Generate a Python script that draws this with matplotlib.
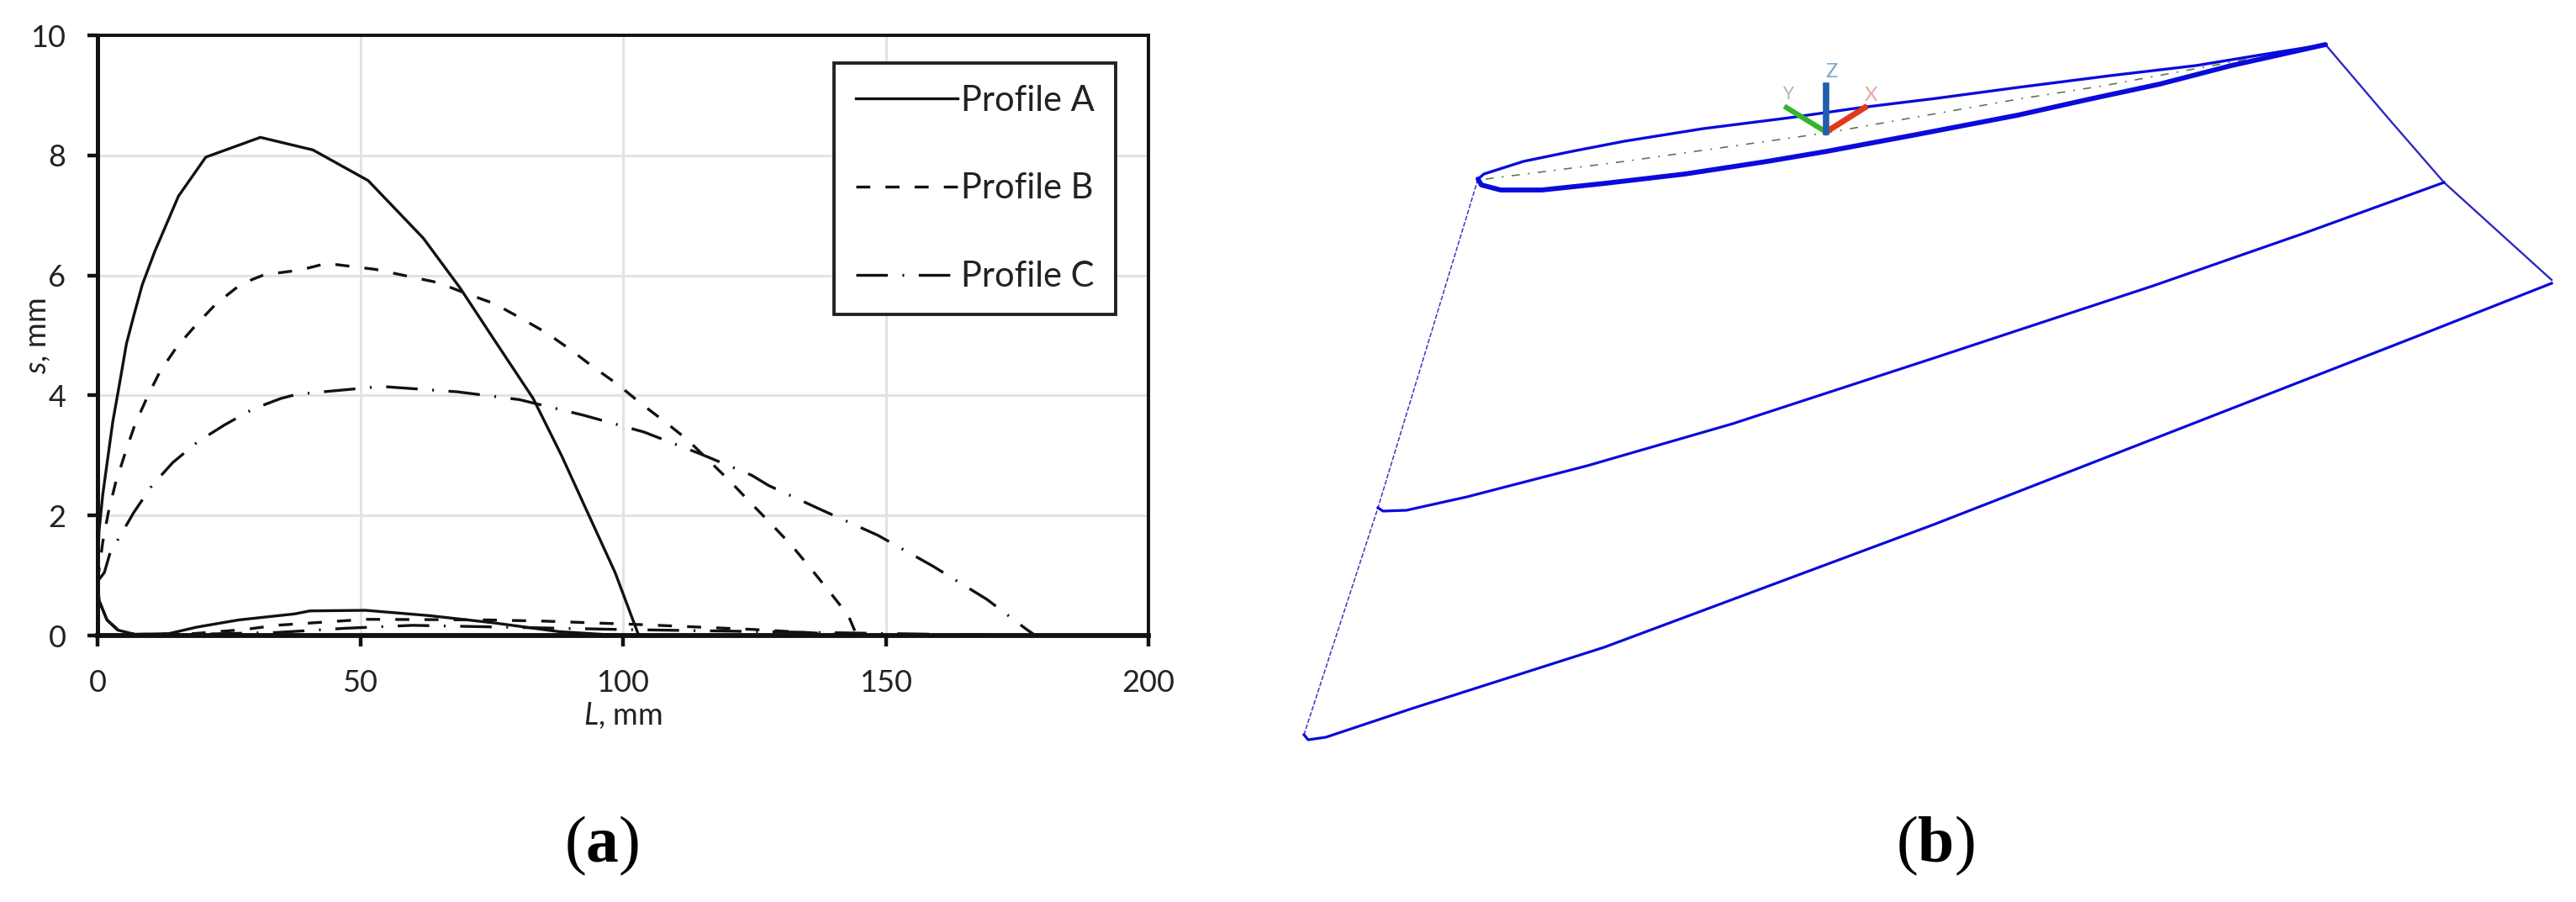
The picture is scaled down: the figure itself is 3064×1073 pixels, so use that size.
import matplotlib
matplotlib.use("Agg")
import matplotlib.pyplot as plt

plt.rcParams.update({
    'font.family': ['Lato', 'DejaVu Sans'],
    'lines.scale_dashes': False,
    'mathtext.fontset': 'custom',
    'mathtext.rm': 'Lato',
    'mathtext.it': 'Lato:italic',
    'mathtext.bf': 'Liberation Serif:bold',
})

# Panel (a) data: L (mm), s (mm)
a_L = [0, 0.1, 0.3, 1, 1.8, 2.9, 4.2, 5.5, 6.9, 8.5, 10.9, 15.4, 20.6, 31, 41, 51.5, 62, 69, 75.7,
       82.9, 88.3, 93, 98.5, 103,
       96, 87.8, 75.5, 63.3, 51, 40.4, 37.5, 26.9, 18.9, 13.5, 7.1, 3.9, 1.8, 0.3, 0]
a_s = [0.9, 1.28, 1.75, 2.35, 2.86, 3.56, 4.2, 4.86, 5.33, 5.84, 6.4, 7.32, 7.97, 8.3, 8.09, 7.58, 6.62, 5.79, 4.9,
       3.95, 3.0, 2.1, 1.05, 0,
       0.02, 0.065, 0.21, 0.33, 0.42, 0.41, 0.36, 0.26, 0.14, 0.03, 0.02, 0.09, 0.26, 0.58, 0.9]
b_L = [0, 1, 2.1, 3.4, 5.3, 7.1, 9.5, 11.9, 15.1, 18.9, 22.6, 27.4, 31.7, 38.6, 43.6, 52.9, 64.8, 70.1, 75.5,
       80.3, 85.3, 89.9, 94.4, 98.9, 103.5, 108, 112.3, 120.5, 124.3, 128.2, 132.2, 135.7, 139.4, 142.9, 144.5,
       135, 125, 104, 85, 74, 51, 34, 28, 18, 7.1, 3.9, 1.8, 0.3, 0]
b_s = [0.9, 1.56, 2.07, 2.53, 3.05, 3.51, 3.98, 4.4, 4.81, 5.19, 5.53, 5.86, 6.01, 6.09, 6.2, 6.1, 5.88, 5.7, 5.53,
       5.3, 5.05, 4.77, 4.47, 4.19, 3.86, 3.56, 3.26, 2.56, 2.21, 1.86, 1.49, 1.12, 0.72, 0.33, 0,
       0.05, 0.1, 0.18, 0.24, 0.26, 0.27, 0.17, 0.1, 0.03, 0.02, 0.09, 0.26, 0.58, 0.9]
c_L = [0, 1.3, 2.3, 3.9, 6.9, 10.3, 14.3, 19.1, 24.2, 29.5, 34.9, 38, 54, 68.5, 80.3, 92.5, 104, 114.9,
       124.5, 127.7, 137.6, 148.5, 158.9, 169.3, 174.1, 177, 178.5,
       160, 130, 100, 60, 47, 34, 18, 7.1, 3.9, 1.8, 0.3, 0]
c_s = [0.9, 1.05, 1.35, 1.6, 2.05, 2.49, 2.88, 3.23, 3.51, 3.77, 3.95, 4.02, 4.15, 4.06, 3.93, 3.67, 3.39, 3.02,
       2.67, 2.5, 2.1, 1.67, 1.16, 0.6, 0.28, 0.09, 0,
       0.02, 0.06, 0.1, 0.17, 0.12, 0.05, 0.02, 0.02, 0.09, 0.26, 0.58, 0.9]
x_ticks = [0, 50, 100, 150, 200]
y_ticks = [0, 2, 4, 6, 8, 10]
profile_names = ['Profile A', 'Profile B', 'Profile C']

# Panel (b) data: drawing coordinates
top_upper_x = [1758, 1765, 1812, 1870, 1932, 2026, 2129, 2213, 2303, 2400, 2510, 2612, 2697, 2766]
top_upper_y = [213, 207, 192, 180, 168, 153, 140, 128, 117, 104, 90, 78, 64, 53]
top_lower_x = [1758, 1762, 1785, 1834, 1910, 2004, 2102, 2173, 2280, 2400, 2485, 2569, 2654, 2766]
top_lower_y = [213, 220, 226, 226, 218, 207, 192, 180, 160, 137, 118, 100, 78, 53]
top_chord_x = [1767, 1932, 2173, 2400, 2502, 2675]
top_chord_y = [213, 192, 158, 118, 102, 70]
mid_x = [1639, 1645, 1673, 1745, 1888, 2061, 2300, 2400, 2561, 2739, 2907]
mid_y = [604, 608, 607, 591, 554, 504, 426, 393, 340, 278, 217]
out_x = [1551, 1556, 1577, 1679, 1908, 2300, 2875, 3035]
out_y = [874, 880, 877, 843, 770, 624, 400, 337]
left_x = [1758, 1639, 1551]
left_y = [213, 604, 874]
right_x = [2766, 2841, 2907, 3035]
right_y = [53, 141, 217, 333]
ucs_origin = (2172, 157)
ucs_z = (2172, 102)
ucs_y = (2125, 128)
ucs_x = (2218, 128)

fig = plt.figure(figsize=(30.64, 10.73), dpi=100, facecolor='white')

# ---------- panel (a)
ax = fig.add_axes([116/3064, 1 - 756/1073, 1250/3064, 714/1073])
ax.set_xlim(0, 200)
ax.set_ylim(0, 10)
ax.set_xticks(x_ticks)
ax.set_yticks(y_ticks)
ax.grid(True, color='#e3e3e3', lw=2.2)
ax.set_axisbelow(True)
ax.plot(a_L, a_s, color='#111111', lw=2.4, ls='-', label=profile_names[0], clip_on=False)
ax.plot(b_L, b_s, color='#111111', lw=2.4, ls=(0, (12, 13)), label=profile_names[1], clip_on=False)
ax.plot(c_L, c_s, color='#111111', lw=2.4, ls=(0, (27, 12.5, 1.5, 12.5)), label=profile_names[2], clip_on=False)
for sp in ax.spines.values():
    sp.set_color('#111111')
    sp.set_linewidth(2.8)
ax.spines['left'].set_linewidth(3.6)
ax.spines['bottom'].set_linewidth(4.2)
ax.tick_params(axis='both', length=9, width=3.2, color='#111111', labelsize=26,
               labelcolor='#222222')
ax.tick_params(axis='x', pad=20)
ax.tick_params(axis='y', pad=18)
ax.set_xlabel(r'$\mathit{L}$, mm', fontsize=26, color='#222222', labelpad=3)
ax.set_ylabel(r'$\mathit{s}$, mm', fontsize=26, color='#222222', va='center')
ax.yaxis.set_label_coords((45 - 116) / 1250, 0.5)

leg = ax.legend(loc='upper left', bbox_to_anchor=(876/1250, 1 - 33/714), borderaxespad=0,
                frameon=True, fancybox=False, framealpha=1, edgecolor='#222222',
                fontsize=30, labelspacing=1.6, handlelength=2.9, handletextpad=0.1,
                borderpad=0.62, labelcolor='#222222')
leg.get_frame().set_linewidth(2.8)

# ---------- panel (b) and captions share one overlay in picture coordinates
ov = fig.add_axes([0, 0, 1, 1], facecolor='none')
ov.set_xlim(0, 3064)
ov.set_ylim(1073, 0)
ov.axis('off')
BLUE = '#0a0adc'
ov.plot(left_x, left_y, color='#3a3ab8', lw=1.1, ls=(0, (4, 1.5)))
ov.plot(right_x, right_y, color='#2a2ac0', lw=1.7)
ov.plot(top_chord_x, top_chord_y, color='#5d7a4a', lw=1.2, ls=(0, (7, 7, 1.5, 7)))
ov.plot(top_upper_x, top_upper_y, color=BLUE, lw=2.4, solid_capstyle='round')
ov.plot(top_lower_x, top_lower_y, color=BLUE, lw=4.2, solid_capstyle='round')
ov.plot(mid_x, mid_y, color=BLUE, lw=2.3)
ov.plot(out_x, out_y, color=BLUE, lw=2.3)
ov.plot([ucs_origin[0], ucs_y[0]], [ucs_origin[1], ucs_y[1]], color='#35b52a', lw=4.5)
ov.plot([ucs_origin[0], ucs_x[0]], [ucs_origin[1], ucs_x[1]], color='#e0391c', lw=5)
ov.plot([ucs_origin[0], ucs_z[0]], [ucs_origin[1], ucs_z[1]], color='#1f5fae', lw=5.5)
ov.text(2178, 85, 'Z', color='#7fa6d0', fontsize=17, ha='center', va='center')
ov.text(2127, 112, 'Y', color='#a9b8a2', fontsize=15, ha='center', va='center')
ov.text(2225, 113, 'X', color='#e5a9a0', fontsize=17, ha='center', va='center')

ov.text(716, 1006, r'($\mathbf{a}$)', family='Liberation Serif', fontsize=56, color='black',
        ha='center', va='center', math_fontfamily='custom')
ov.text(2302, 1006, r'($\mathbf{b}$)', family='Liberation Serif', fontsize=56, color='black',
        ha='center', va='center', math_fontfamily='custom')

fig.savefig('out.png', dpi=100)
